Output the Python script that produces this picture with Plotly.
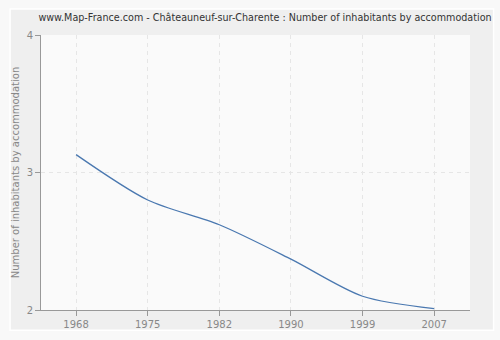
import plotly.graph_objects as go

years = ["1968", "1975", "1982", "1990", "1999", "2007"]
values = [3.13, 2.80, 2.62, 2.37, 2.10, 2.01]
y_ticks = [2, 3, 4]

title = "www.Map-France.com - Châteauneuf-sur-Charente : Number of inhabitants by accommodation"
y_title = "Number of inhabitants by accommodation"

fig = go.Figure()
fig.add_trace(go.Scatter(
    x=years, y=values, mode="lines",
    line=dict(color="#4a78b0", width=1.3, shape="spline", smoothing=0.8),
    hoverinfo="x+y", showlegend=False,
))

font_family = "DejaVu Sans, Verdana, sans-serif"

fig.update_layout(
    width=500, height=340,
    margin=dict(l=41, r=30, t=35, b=30, autoexpand=False),
    paper_bgcolor="#f8f8f8",
    plot_bgcolor="#fafafa",
    font=dict(family=font_family, size=11, color="#888888"),
    title=dict(text=title, x=0.530, xanchor="center", y=0.947, yanchor="middle",
               font=dict(family=font_family, size=9.6, color="#333333")),
    xaxis=dict(
        type="category", range=[-0.49, 5.5], automargin=False,
        showline=True, linecolor="#999999", linewidth=1,
        ticks="outside", ticklen=5, tickcolor="#999999",
        showgrid=True, gridcolor="#e6e6e6", griddash="4px,4px", gridwidth=1,
        tickfont=dict(size=10, color="#888888"),
        zeroline=False, fixedrange=True,
    ),
    yaxis=dict(
        range=[2, 4], tickvals=y_ticks, automargin=False,
        showline=True, linecolor="#999999", linewidth=1,
        ticks="outside", ticklen=5, tickcolor="#999999",
        showgrid=True, gridcolor="#e6e6e6", griddash="4px,4px", gridwidth=1,
        tickfont=dict(size=10, color="#888888"),
        title=dict(text=y_title, font=dict(size=10, color="#888888"), standoff=5),
        zeroline=False, fixedrange=True,
    ),
    shapes=[
        dict(
            type="rect", xref="paper", yref="paper", layer="below",
            x0=-0.072, x1=1.055, y0=-0.074, y1=1.095,
            line=dict(color="#ffffff", width=1.5), fillcolor="#efefef",
        ),
        dict(
            type="rect", xref="x domain", yref="y domain", layer="below",
            x0=0, x1=1, y0=0, y1=1,
            line=dict(width=0), fillcolor="#fafafa",
        ),
    ],
)

fig.write_html("out.html")
